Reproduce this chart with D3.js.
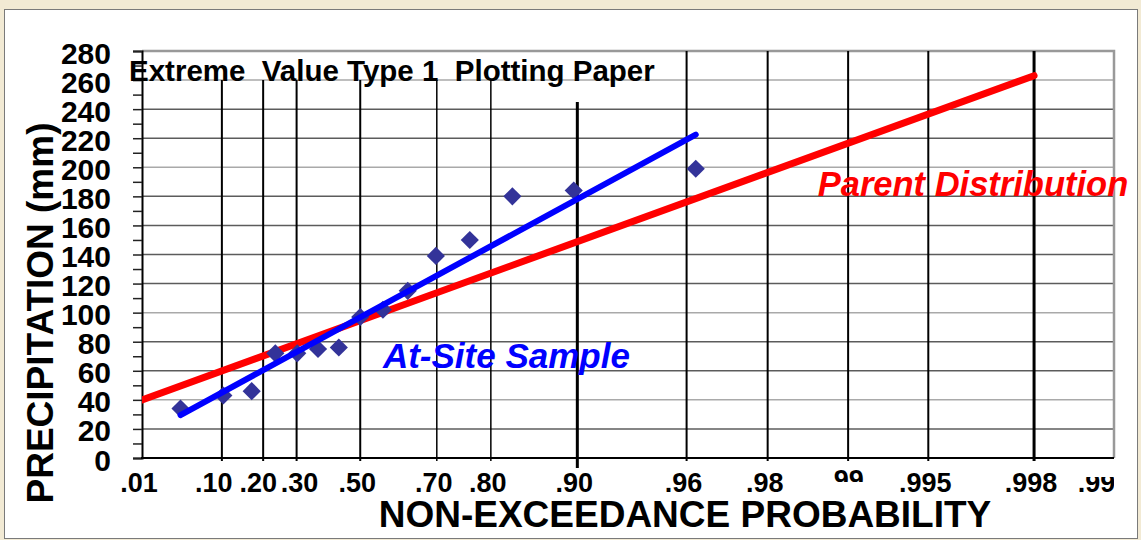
<!DOCTYPE html>
<html>
<head>
<meta charset="utf-8">
<script src="https://cdn.jsdelivr.net/npm/d3@7"></script>
<style>
  body { margin: 0; background: #f2ead4; }
  svg text { font-family: "Liberation Sans", Arial, sans-serif; font-weight: bold; }
</style>
</head>
<body>
<script>
// probability ticks on the Gumbel paper
var probTicks = [0.01, 0.10, 0.20, 0.30, 0.50, 0.70, 0.80, 0.90, 0.96, 0.98, 0.99, 0.995, 0.998, 0.999];
var probLabels = [".01", ".10", ".20", ".30", ".50", ".70", ".80", ".90", ".96", ".98", ".99", ".995", ".998", ".999"];
var rainTicks = [0, 10, 20, 30, 40, 50, 60, 70, 80, 90, 100, 110, 120, 130, 140, 150, 160, 170, 180, 190, 200, 210, 220, 230, 240, 250, 260, 270, 280];

// at-site sample (plotting position, precipitation mm)
var sampleProb = [0.037, 0.103, 0.169, 0.235, 0.302, 0.368, 0.434, 0.500, 0.566, 0.632, 0.698, 0.765, 0.831, 0.897, 0.963];
var sampleRain = [34, 43, 46, 72, 72, 75, 76, 97, 102, 115, 139, 150, 180, 184, 199];

// fitted lines
var siteFitProb = [0.037, 0.963];
var siteFitRain = [29.5, 222.5];
var parentProb = [0.01, 0.998];
var parentRain = [40, 263];

var width = 1141, height = 540;

function gumbel(p) { return -Math.log(-Math.log(p)); }

var x = d3.scaleLinear().domain([gumbel(0.01), gumbel(0.999)]).range([142, 1114]);
var y = d3.scaleLinear().domain([0, 280]).range([458, 51]);

var svg = d3.select("body").append("svg")
    .attr("width", width)
    .attr("height", height);

// panel
svg.append("rect")
    .attr("x", 4.5).attr("y", 9.5)
    .attr("width", 1133).attr("height", 529)
    .attr("fill", "#fff")
    .attr("stroke", "#7a7a7a");

svg.append("clipPath").attr("id", "plotclip")
  .append("rect")
    .attr("x", x.range()[0]).attr("y", y(280))
    .attr("width", x.range()[1] - x.range()[0])
    .attr("height", y(0) - y(280));

// horizontal grid
var lightGrid = [40, 100, 200, 260];
svg.append("g").selectAll("line")
    .data(rainTicks.filter(function(d) { return d % 20 === 0 && d > 0 && d < 280; }))
    .enter().append("line")
    .attr("x1", x.range()[0]).attr("x2", x.range()[1])
    .attr("y1", function(d) { return y(d); })
    .attr("y2", function(d) { return y(d); })
    .attr("stroke", function(d) { return lightGrid.indexOf(d) >= 0 ? "#a9a9a9" : "#5c5c5c"; })
    .attr("stroke-width", 1.5);

// plot frame (top + right)
svg.append("path")
    .attr("d", "M" + x.range()[0] + "," + y(280) + "H" + x.range()[1] + "V" + y(0))
    .attr("fill", "none")
    .attr("stroke", "#999")
    .attr("stroke-width", 2.5);

// vertical probability lines
function vTop(p) { return p < 0.9 ? y(260) : (p === 0.9 ? y(245) : y(280)); }
function vBottom(p) { return p === 0.9 ? y(0) + 10 : y(0) + 3; }
function vWidth(p) {
    if (p === 0.9 || p === 0.998) return 3;
    if (p === 0.7 || p === 0.8) return 1.5;
    return 2;
}
svg.append("g").selectAll("line")
    .data(probTicks.filter(function(p) { return p > 0.01 && p < 0.999; }))
    .enter().append("line")
    .attr("x1", function(p) { return x(gumbel(p)); })
    .attr("x2", function(p) { return x(gumbel(p)); })
    .attr("y1", vTop)
    .attr("y2", vBottom)
    .attr("stroke", "#000")
    .attr("stroke-width", vWidth);

// y axis
var yAxis = d3.axisLeft(y)
    .tickValues(rainTicks)
    .tickSize(9)
    .tickPadding(22)
    .tickFormat(function(d) { return d % 20 === 0 ? d : ""; });

var gy = svg.append("g")
    .attr("transform", "translate(" + x.range()[0] + ",0)")
    .call(yAxis);
gy.select(".domain").attr("stroke", "#000").attr("stroke-width", 2);
gy.selectAll(".tick line").attr("stroke", "#222").attr("stroke-width", 1.5);
gy.selectAll(".tick text")
    .attr("font-size", 30)
    .attr("fill", "#000")
    .attr("dy", "0.4em");

// x axis line
svg.append("line")
    .attr("x1", x.range()[0] - 1).attr("x2", x.range()[1])
    .attr("y1", y(0)).attr("y2", y(0))
    .attr("stroke", "#000")
    .attr("stroke-width", 2);

// x tick labels (two of them are cut in the original)
var defs = svg.append("defs");
defs.append("clipPath").attr("id", "clip99")
  .append("rect").attr("x", 0).attr("y", 0).attr("width", width).attr("height", 482);
defs.append("clipPath").attr("id", "clip999")
  .append("rect").attr("x", 0).attr("y", 477).attr("width", x(gumbel(0.999))).attr("height", 40);

// small nudges so the crowded low-probability labels don't collide
function labelShift(p) {
    if (p === 0.999) return -10;
    if (p === 0.10) return -8;
    if (p === 0.20) return -5;
    if (p === 0.30) return 3;
    return -3;
}

svg.append("g").selectAll("text")
    .data(probTicks)
    .enter().append("text")
    .attr("x", function(p) { return x(gumbel(p)) + labelShift(p); })
    .attr("y", function(p) { return p === 0.99 ? 489 : 492; })
    .attr("text-anchor", "middle")
    .attr("font-size", 27)
    .attr("clip-path", function(p) {
        return p === 0.99 ? "url(#clip99)" : (p === 0.999 ? "url(#clip999)" : null);
    })
    .text(function(p, i) { return probLabels[i]; });

// parent distribution
var line = d3.line()
    .x(function(d) { return x(gumbel(d[0])); })
    .y(function(d) { return y(d[1]); });

svg.append("path")
    .datum(d3.zip(parentProb, parentRain))
    .attr("d", line)
    .attr("clip-path", "url(#plotclip)")
    .attr("fill", "none")
    .attr("stroke", "#ff0000")
    .attr("stroke-width", 7)
    .attr("stroke-linecap", "round");

// sample points
svg.append("g").selectAll("path")
    .data(d3.zip(sampleProb, sampleRain))
    .enter().append("path")
    .attr("d", d3.symbol().type(d3.symbolSquare).size(165))
    .attr("transform", function(d) {
        return "translate(" + x(gumbel(d[0])) + "," + y(d[1]) + ") rotate(45)";
    })
    .attr("fill", "#333399");

// at-site fitted line
svg.append("path")
    .datum(d3.zip(siteFitProb, siteFitRain))
    .attr("d", line)
    .attr("fill", "none")
    .attr("stroke", "#0000ff")
    .attr("stroke-width", 6)
    .attr("stroke-linecap", "round");

// title
svg.append("text")
    .attr("x", 129)
    .attr("y", 81)
    .attr("font-size", 29.5)
    .attr("fill", "#000")
    .style("white-space", "pre")
    .text("Extreme  Value Type 1  Plotting Paper");

// line labels
svg.append("text")
    .attr("x", x(gumbel(0.566)))
    .attr("y", y(62))
    .attr("font-size", 35)
    .attr("font-style", "italic")
    .attr("fill", "#0000ff")
    .text("At-Site Sample");

svg.append("text")
    .attr("x", x(gumbel(0.987)))
    .attr("y", y(180))
    .attr("font-size", 34.5)
    .attr("font-style", "italic")
    .attr("fill", "#ff0000")
    .text("Parent Distribution");

// axis titles
svg.append("text")
    .attr("x", 685)
    .attr("y", 527)
    .attr("text-anchor", "middle")
    .attr("font-size", 37)
    .text("NON-EXCEEDANCE PROBABILITY");

svg.append("text")
    .attr("transform", "translate(53,313) rotate(-90)")
    .attr("text-anchor", "middle")
    .attr("font-size", 37)
    .text("PRECIPITATION (mm)");
</script>
</body>
</html>
